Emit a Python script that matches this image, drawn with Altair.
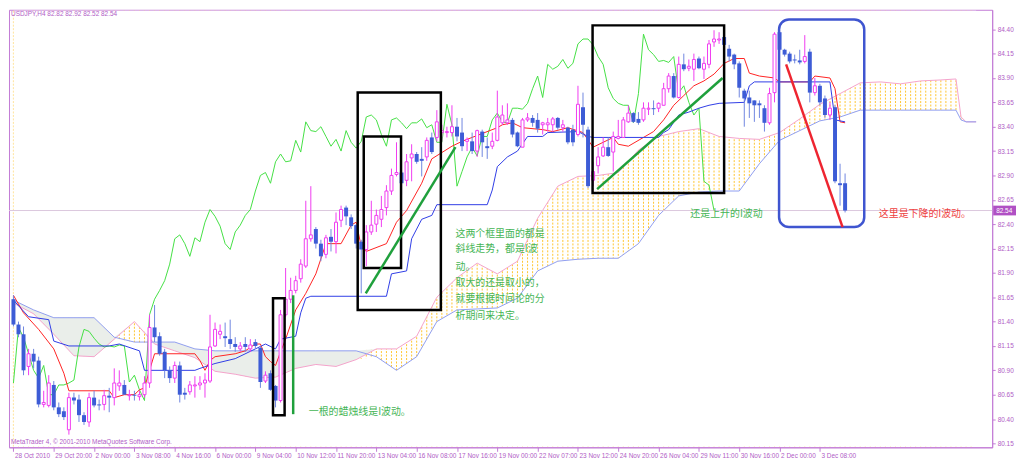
import altair as alt
import pandas as pd

# ---------------- candle data (USDJPY H4) ----------------
opens = [81.63,81.37,81.27,80.94,81.07,81.00,80.55,80.54,80.75,80.52,
         80.48,80.29,80.62,80.60,80.44,80.37,80.62,80.55,80.55,80.64,
         80.62,80.74,80.75,80.64,80.65,80.63,80.65,80.77,81.34,81.25,
         81.09,80.90,80.82,80.95,80.67,80.68,80.74,80.75,80.77,80.79,
         81.15,81.27,81.25,81.22,81.17,81.12,81.17,81.12,81.19,81.13,
         80.79,80.87,80.74,80.59,81.47,81.63,81.72,81.84,81.97,82.25,
         82.35,82.20,82.09,82.27,82.22,82.44,82.57,82.47,82.39,82.22,
         82.14,82.32,82.40,82.45,82.57,82.74,82.91,82.93,82.85,83.08,
         83.12,83.07,83.09,83.29,83.29,83.34,83.34,83.34,83.40,83.34,
         83.25,83.25,83.15,83.35,83.20,83.20,83.26,83.44,83.44,83.47,
         83.34,83.19,83.47,83.49,83.47,83.42,83.42,83.42,83.49,83.39,
         83.39,83.37,83.32,83.60,83.37,82.85,83.00,83.10,83.19,83.14,
         83.28,83.29,83.45,83.54,83.48,83.47,83.58,83.59,83.59,83.62,
         83.79,83.92,83.70,84.04,84.00,83.99,84.10,83.99,84.04,84.27,
         84.29,84.32,84.20,84.14,84.05,83.77,83.70,83.67,83.64,83.59,
         83.44,83.75,84.37,84.19,84.15,84.09,84.08,84.07,84.17,83.75,
         83.82,83.69,83.52,83.60,82.82,82.82]
highs = [81.67,81.40,81.35,81.12,81.12,81.04,80.69,80.85,80.79,80.57,
         80.52,80.67,80.67,80.65,80.47,80.67,80.69,80.60,80.70,80.72,
         80.92,80.90,80.80,80.70,80.69,80.69,80.84,81.47,81.57,81.29,
         81.12,80.94,80.99,80.99,80.72,80.79,80.84,80.84,80.87,81.47,
         81.39,81.37,81.39,81.42,81.24,81.19,81.24,81.22,81.22,81.15,
         80.89,80.90,80.75,81.52,81.95,81.85,81.87,82.04,82.64,82.79,
         82.37,82.24,82.29,82.35,82.52,82.59,82.59,82.50,82.40,82.24,
         82.39,82.64,82.55,82.69,82.80,82.97,83.24,82.95,83.12,83.22,
         83.14,83.19,83.29,83.34,83.57,83.42,83.40,83.62,83.49,83.49,
         83.29,83.34,83.37,83.37,83.29,83.34,83.77,83.62,83.64,83.49,
         83.35,83.49,83.54,83.52,83.54,83.45,83.49,83.50,83.50,83.47,
         83.40,83.42,83.82,83.75,83.40,83.04,83.19,83.29,83.29,83.35,
         83.47,83.50,83.62,83.55,83.55,83.65,83.65,83.67,83.65,83.85,
         83.95,83.95,84.12,84.15,84.09,84.15,84.12,84.12,84.29,84.39,
         84.37,84.34,84.24,84.15,84.07,83.79,83.77,83.67,83.67,83.62,
         83.80,84.37,84.39,84.20,84.17,84.14,84.19,84.34,84.20,83.90,
         83.84,83.72,83.65,83.62,83.02,82.92]
lows = [81.35,81.24,80.85,80.85,80.92,80.52,80.52,80.52,80.49,80.42,
        80.39,80.24,80.55,80.37,80.34,80.32,80.52,80.49,80.49,80.47,
        80.54,80.69,80.65,80.59,80.59,80.59,80.62,80.72,81.19,81.05,
        80.82,80.77,80.77,80.57,80.60,80.65,80.62,80.70,80.62,80.77,
        81.14,81.22,81.14,81.12,81.09,81.09,81.09,81.09,81.12,80.72,
        80.77,80.69,80.52,80.57,81.45,81.59,81.69,81.80,81.95,82.22,
        82.15,82.02,82.05,82.12,82.10,82.37,82.39,82.35,82.15,81.69,
        81.97,82.29,82.32,82.37,82.49,82.70,82.89,82.70,82.79,82.84,
        83.02,82.89,83.05,83.12,83.25,83.25,83.29,83.30,83.25,83.15,
        83.15,83.12,83.09,83.09,83.07,83.17,83.25,83.42,83.42,83.29,
        83.19,83.19,83.45,83.40,83.34,83.32,83.35,83.35,83.37,83.35,
        83.22,83.20,83.30,83.29,82.77,82.79,82.92,83.09,83.09,82.94,
        83.27,83.29,83.44,83.44,83.42,83.45,83.52,83.52,83.55,83.62,
        83.75,83.69,83.69,83.97,83.97,83.87,83.99,83.89,84.00,84.22,
        84.25,84.17,84.07,83.99,83.70,83.40,83.49,83.45,83.49,83.35,
        83.42,83.65,84.17,84.12,84.05,84.05,84.04,84.05,83.65,83.72,
        83.62,83.49,83.47,82.82,82.59,82.52]
closes = [81.37,81.27,80.90,81.07,80.99,80.55,80.57,80.77,80.52,80.45,
          80.42,80.62,80.59,80.44,80.37,80.62,80.54,80.54,80.64,80.62,
          80.77,80.77,80.65,80.65,80.64,80.65,80.77,81.34,81.24,81.07,
          80.90,80.82,80.95,80.65,80.65,80.75,80.75,80.77,80.80,81.14,
          81.32,81.30,81.23,81.17,81.14,81.15,81.14,81.16,81.15,80.78,
          80.85,80.70,80.59,81.47,81.63,81.72,81.82,81.99,82.25,82.29,
          82.20,82.07,82.26,82.22,82.42,82.55,82.48,82.38,82.20,82.14,
          82.32,82.39,82.49,82.55,82.74,82.90,82.93,82.82,83.04,83.12,
          83.04,83.05,83.26,83.14,83.45,83.36,83.35,83.40,83.30,83.20,
          83.27,83.15,83.36,83.24,83.18,83.25,83.50,83.52,83.47,83.32,
          83.20,83.47,83.49,83.44,83.38,83.44,83.44,83.48,83.39,83.42,
          83.24,83.24,83.63,83.42,82.79,82.94,83.09,83.19,83.10,83.30,
          83.30,83.47,83.54,83.45,83.44,83.59,83.59,83.58,83.64,83.79,
          83.92,83.70,84.04,83.99,84.02,84.09,84.00,84.05,84.25,84.30,
          84.30,84.24,84.12,84.04,83.80,83.69,83.64,83.62,83.62,83.44,
          83.74,84.35,84.19,84.14,84.07,84.08,84.06,84.12,83.75,83.82,
          83.65,83.52,83.59,82.84,82.80,82.54]

# ---------------- Ichimoku lines ----------------
tenkan_i = [0,2,5,8,10,11,19,20,22,24,25,26,27,28,36,37,38,39,40,44,46,48,49,50,51,52,53,54,56,58,
            60,62,65,67,68,69,70,74,76,78,81,83,87,89,91,96,97,99,101,105,107,110,113,115,119,120,122,125,
            127,129,131,133,135,137,139,141,143,145,146,148,151,152,158,159,162,163,164,165]
tenkan_p = [81.67,81.49,81.32,81.12,80.87,80.69,80.69,80.62,80.65,80.65,80.70,80.72,80.90,81.07,81.07,
            81.00,80.90,81.00,81.04,81.07,81.10,81.17,81.17,81.04,80.99,80.95,81.09,81.22,81.52,81.69,
            81.89,82.20,82.20,82.39,82.42,82.17,82.12,82.20,82.42,82.54,82.82,83.07,83.20,83.25,83.29,
            83.39,83.42,83.44,83.39,83.37,83.35,83.39,83.34,83.19,83.29,83.22,83.20,83.29,83.35,83.47,
            83.62,83.72,83.82,83.87,83.94,84.05,84.10,84.10,83.95,83.92,83.90,83.86,83.86,83.92,83.90,
            83.79,83.45,83.44]
kijun_i = [0,3,7,8,11,19,21,25,26,36,37,40,44,48,50,52,53,56,57,58,59,74,75,78,79,80,81,83,84,94,95,96,
           98,100,102,105,106,112,114,115,128,129,130,132,134,136,138,140,145,146,147,162,163,165]
kijun_p = [81.62,81.45,81.42,81.20,81.15,81.15,81.17,81.10,80.90,80.90,80.92,80.97,81.02,81.12,81.17,
           81.12,81.22,81.25,81.49,81.64,81.66,81.66,81.89,81.92,82.25,82.35,82.45,82.49,82.60,82.60,
           82.75,82.99,83.09,83.15,83.30,83.30,83.34,83.35,83.30,83.29,83.29,83.34,83.37,83.52,83.55,
           83.59,83.62,83.64,83.65,83.82,83.86,83.86,83.47,83.45]
kumo_i = [0,4,8,12,16,20,24,28,32,36,40,44,48,52,56,60,64,68,72,76,80,84,88,92,96,100,104,108,112,116,
          120,124,128,132,136,140,144,148,152,156,160,164,168,172,176,180,184,187,188,189,191]
span_a = [81.59,81.48,81.27,81.05,81.04,81.22,81.40,81.17,81.10,81.03,80.89,80.86,80.82,80.83,80.92,
          80.96,80.94,81.01,81.12,81.12,81.25,81.65,81.85,82.00,81.89,82.02,82.46,82.79,82.89,82.90,
          82.93,83.16,83.30,83.35,83.38,83.30,83.28,83.27,83.34,83.48,83.63,83.74,83.85,83.86,83.84,
          83.87,83.88,83.89,83.50,83.45,83.45]
span_b = [81.62,81.52,81.44,81.44,81.44,81.24,81.19,81.19,81.19,81.12,81.10,81.10,81.10,81.10,81.10,
          81.10,81.10,81.10,81.04,80.90,81.04,81.40,81.52,81.53,81.54,81.64,81.92,82.02,82.04,82.05,
          82.05,82.20,82.49,82.69,82.73,82.74,82.74,83.02,83.26,83.36,83.46,83.50,83.57,83.57,83.57,
          83.57,83.57,83.57,83.47,83.45,83.45]
CHIKOU_SHIFT = 26

# ---------------- axis labels ----------------
time_labels = ["28 Oct 2010", "29 Oct 20:00", "2 Nov 00:00", "3 Nov 08:00", "4 Nov 16:00",
               "6 Nov 00:00", "9 Nov 04:00", "10 Nov 12:00", "11 Nov 20:00", "13 Nov 04:00",
               "16 Nov 08:00", "17 Nov 16:00", "19 Nov 00:00", "22 Nov 07:00", "23 Nov 12:00",
               "24 Nov 20:00", "26 Nov 04:00", "29 Nov 11:00", "30 Nov 16:00", "2 Dec 00:00",
               "3 Dec 08:00"]
LABEL_STEP = 8
price_ticks = [80.15, 80.40, 80.65, 80.90, 81.15, 81.40, 81.65, 81.90, 82.15, 82.40, 82.65,
               82.90, 83.15, 83.40, 83.65, 83.90, 84.15, 84.40]

# ---------------- annotations (bar index / price) ----------------
box_i1 = [51.5, 68.3, 69.5, 114.9]
box_i2 = [53.8, 84.8, 76.9, 141.0]
box_p1 = [81.64, 83.75, 83.30, 84.44]
box_p2 = [80.44, 81.52, 81.95, 82.72]
round_box = {"i": 151.9, "i2": 168.8, "p": 84.50, "p2": 82.37}
green_seg_i1 = [55.5, 69.9, 115.8]
green_seg_i2 = [55.5, 87.7, 140.7]
green_seg_p1 = [81.67, 81.69, 82.76]
green_seg_p2 = [80.45, 83.19, 83.90]
red_seg = {"i": 153.3, "i2": 164.5, "p": 84.04, "p2": 82.37}
green_texts = ["一根的蜡烛线是I波动。", "这两个框里面的都是", "斜线走势，都是I波", "动。",
               "取大的还是取小的，", "就要根据时间论的分", "析期间来决定。", "还是上升的I波动"]
green_text_i = [58.6, 87.7, 87.7, 87.7, 87.7, 87.7, 87.7, 134.3]
green_text_p = [80.47, 82.30, 82.14, 81.96, 81.80, 81.63, 81.46, 82.50]
red_text = {"t": "这里是下降的I波动。", "i": 171.7, "p": 82.50}

# ---------------- style ----------------
W, H = 991, 441
VIOLET = "#C27BD6"
LABEL = "#B05CC6"
BULL = "#F03CF0"
BEAR = "#3D5CD6"
FONT = "Liberation Sans"
CJK = "Noto Sans CJK SC"
Y_DOMAIN = [80.11, 84.60]

xs = alt.Scale(domain=[0.1, 193.2], nice=False, zero=False)
ys = alt.Scale(domain=Y_DOMAIN, nice=False, zero=False)

label_expr = "[" + ",".join("'%s'" % s for s in time_labels) + "][round(datum.value/%d)]" % LABEL_STEP
x_axis = alt.Axis(values=[LABEL_STEP * k for k in range(len(time_labels))], labelExpr=label_expr,
                  title=None, labelAlign="left", labelOffset=1, labelPadding=1, tickSize=4,
                  labelFontSize=6.5, labelFont=FONT, labelColor=LABEL, tickColor=VIOLET,
                  domainColor=VIOLET, grid=False, labelOverlap=False, labelFlush=False)
y_axis = alt.Axis(values=price_ticks, format=".2f", orient="right", title=None, tickSize=3,
                  labelPadding=2, labelFontSize=6.5, labelFont=FONT, labelColor=LABEL,
                  tickColor=VIOLET, domainColor=VIOLET, grid=False, labelOverlap=False)


def X(f="i"):
    return alt.X(f + ":Q", scale=xs, axis=x_axis)


def Y(f="p"):
    return alt.Y(f + ":Q", scale=ys, axis=y_axis)


candles = pd.DataFrame({"i": list(range(len(opens))), "o": opens, "h": highs, "l": lows, "c": closes})
kumo = pd.DataFrame({"i": kumo_i, "a": span_a, "b": span_b,
                     "ytop": [Y_DOMAIN[1] - 0.01] * len(kumo_i), "ybot": [Y_DOMAIN[0] + 0.01] * len(kumo_i)})
tenkan = pd.DataFrame({"i": tenkan_i, "p": tenkan_p})
kijun = pd.DataFrame({"i": kijun_i, "p": kijun_p})
chikou = pd.DataFrame({"i": [k - CHIKOU_SHIFT for k in range(len(closes))], "p": closes})
chikou = chikou[chikou.i >= 0]

# dotted kumo hatch: one dashed vertical per bar slot, then masked outside the cloud
hatch = alt.Chart(pd.DataFrame({"i": list(range(0, kumo_i[-1]))})).mark_rule(
    color="#FFC530", strokeWidth=1, strokeDash=[2, 1.5]).encode(
    x=X(), y=alt.value(1), y2=alt.value(H - 1))
kumo_base = alt.Chart(kumo)
mask_top = kumo_base.transform_calculate(env="max(datum.a, datum.b)").mark_area(
    color="white", opacity=1).encode(x=X(), y=Y("env"), y2="ytop:Q")
mask_bot = kumo_base.transform_calculate(env="min(datum.a, datum.b)").mark_area(
    color="white", opacity=1).encode(x=X(), y=Y("env"), y2="ybot:Q")
down_cloud = kumo_base.transform_calculate(top="datum.b > datum.a ? datum.b : datum.a").mark_area(
    color="#EAEEEA", opacity=1).encode(x=X(), y=Y("top"), y2="a:Q")
span_a_line = kumo_base.mark_line(color="#F4A3CB", strokeWidth=1).encode(x=X(), y=Y("a"))
span_b_line = kumo_base.mark_line(color="#909EF0", strokeWidth=1).encode(x=X(), y=Y("b"))

bid = alt.Chart(pd.DataFrame({"p": [closes[-1]]})).mark_rule(color="#DCC8DE", strokeWidth=1).encode(y=Y())

chikou_line = alt.Chart(chikou).mark_line(color="#44E044", strokeWidth=1, clip=True).encode(x=X(), y=Y())
tenkan_line = alt.Chart(tenkan).mark_line(color="#FF2222", strokeWidth=1).encode(x=X(), y=Y())
kijun_line = alt.Chart(kijun).mark_line(color="#2F3DE6", strokeWidth=1).encode(x=X(), y=Y())

cb = alt.Chart(candles)
wicks = cb.mark_rule(strokeWidth=1).encode(
    x=X(), y=Y("l"), y2="h:Q",
    color=alt.condition("datum.c >= datum.o", alt.value(BULL), alt.value("#6F86E0")))
bull_body = cb.transform_filter("datum.c >= datum.o").mark_bar(
    size=3, fill="white", stroke=BULL, strokeWidth=1).encode(x=X(), y=Y("o"), y2="c:Q")
bear_body = cb.transform_filter("datum.c < datum.o").mark_bar(
    size=4, color=BEAR).encode(x=X(), y=Y("o"), y2="c:Q")

boxes = alt.Chart(pd.DataFrame({"i": box_i1, "i2": box_i2, "p": box_p1, "p2": box_p2})).mark_rect(
    fillOpacity=0, stroke="black", strokeWidth=2.5).encode(x=X(), x2="i2:Q", y=Y(), y2="p2:Q")
rbox = alt.Chart(pd.DataFrame([round_box])).mark_rect(
    fillOpacity=0, stroke="#3F55D0", strokeWidth=2.5, cornerRadius=10).encode(
    x=X(), x2="i2:Q", y=Y(), y2="p2:Q")
green_segs = alt.Chart(pd.DataFrame({"i": green_seg_i1, "i2": green_seg_i2,
                                     "p": green_seg_p1, "p2": green_seg_p2})).mark_rule(
    color="#1FA03C", strokeWidth=2.5).encode(x=X(), x2="i2:Q", y=Y(), y2="p2:Q")
red_line = alt.Chart(pd.DataFrame([red_seg])).mark_rule(color="#EE2530", strokeWidth=2.5).encode(
    x=X(), x2="i2:Q", y=Y(), y2="p2:Q")

gtext = alt.Chart(pd.DataFrame({"t": green_texts, "i": green_text_i, "p": green_text_p})).mark_text(
    align="left", baseline="middle", font=CJK, fontSize=10, color="#45B555").encode(
    x=X(), y=Y(), text="t:N")
rtext = alt.Chart(pd.DataFrame([red_text])).mark_text(
    align="left", baseline="middle", font=CJK, fontSize=10, color="#EE4040").encode(
    x=X(), y=Y(), text="t:N")

# current price tag on the axis
tag_df = pd.DataFrame({"p": [closes[-1] + 0.05], "p2": [closes[-1] - 0.05],
                       "t": ["%.2f" % closes[-1]], "pc": [closes[-1]]})
tag_box = alt.Chart(tag_df).mark_rect(color="#B050C4").encode(
    x=alt.value(W + 1), x2=alt.value(W + 24), y=Y(), y2="p2:Q")
tag_text = alt.Chart(tag_df).mark_text(align="left", baseline="middle", font=FONT, fontSize=6.5,
                                       color="white").encode(x=alt.value(W + 4), y=Y("pc"), text="t:N")

title_str = "USDJPY,H4  %.2f %.2f %.2f %.2f" % (opens[-1], highs[-1], lows[-1], closes[-1])
title = alt.Chart(pd.DataFrame({"t": [title_str]})).mark_text(
    align="left", baseline="middle", font=FONT, fontSize=6.5, color=LABEL).encode(
    x=alt.value(2), y=alt.value(4), text="t:N")
copyright_t = alt.Chart(pd.DataFrame({"t": ["MetaTrader 4, © 2001-2010 MetaQuotes Software Corp."]})).mark_text(
    align="left", baseline="middle", font=FONT, fontSize=6.5, color=LABEL).encode(
    x=alt.value(2), y=alt.value(H - 5), text="t:N")

chart = alt.layer(
    hatch, mask_top, mask_bot, down_cloud, span_a_line, span_b_line, bid, chikou_line,
    tenkan_line, kijun_line, wicks, bull_body, bear_body, boxes, rbox, green_segs, red_line,
    gtext, rtext, tag_box, tag_text, title, copyright_t
).properties(width=W, height=H, padding=0, background="white").configure_view(
    stroke=VIOLET, strokeWidth=1)

chart.save("out.html", embed_options={"renderer": "svg", "actions": False})
